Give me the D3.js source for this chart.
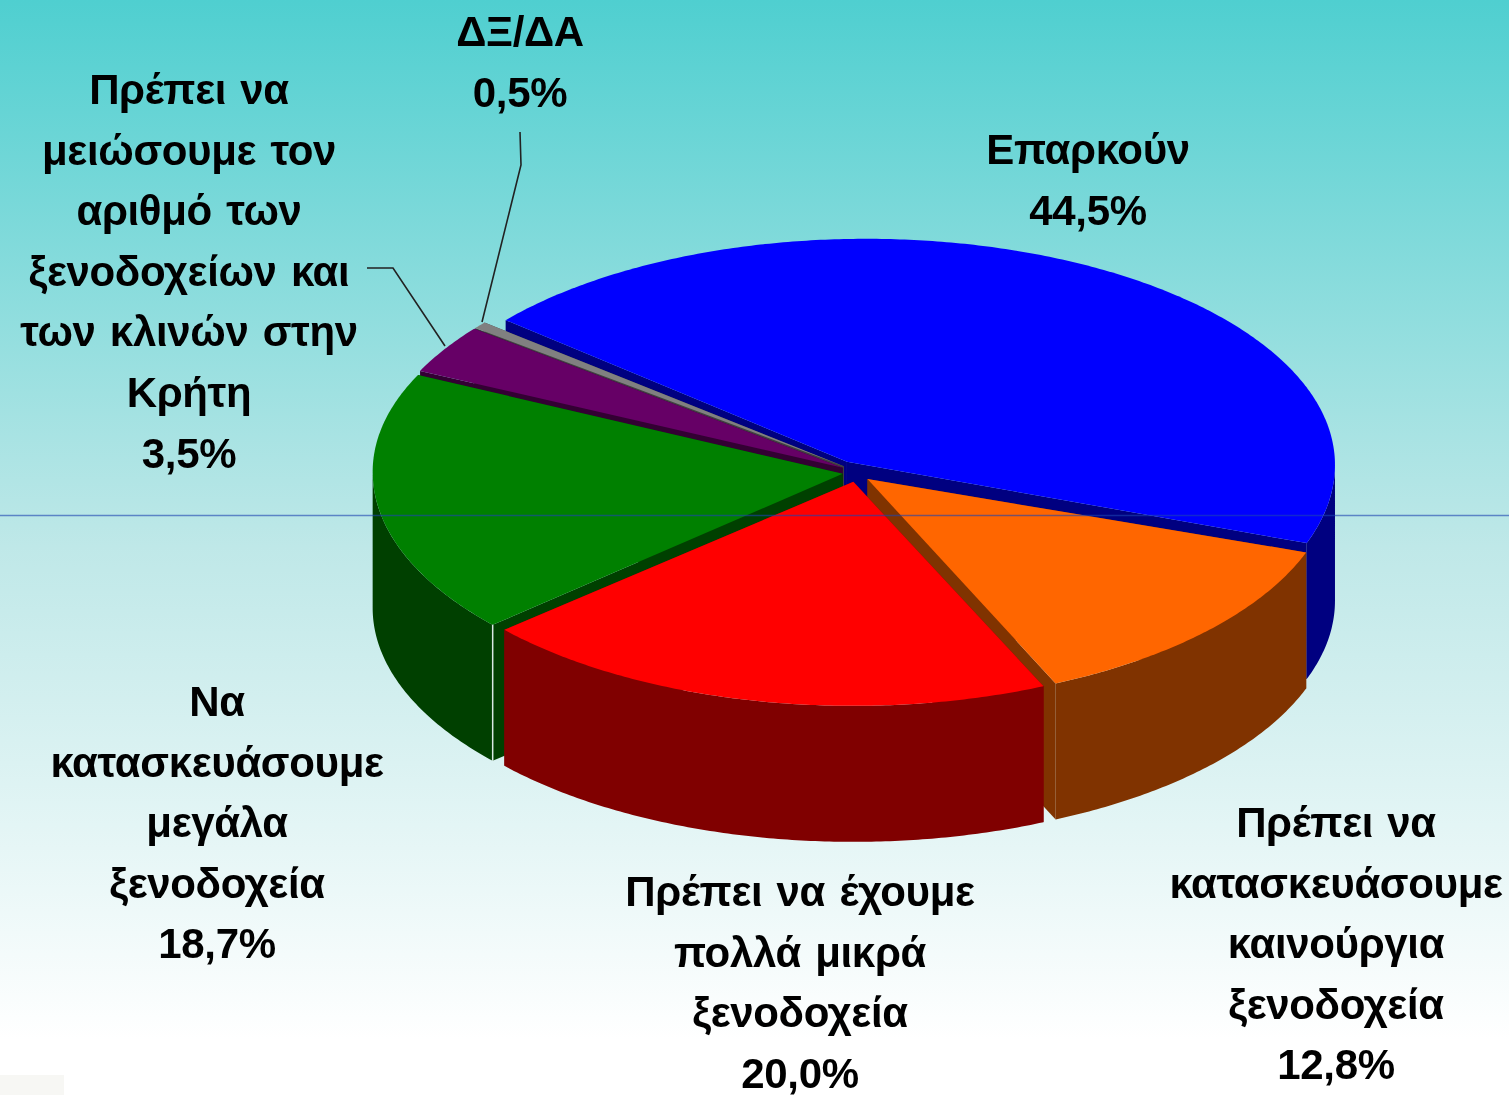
<!DOCTYPE html>
<html lang="el">
<head>
<meta charset="utf-8">
<title>Ξενοδοχεία στην Κρήτη</title>
<script src="https://cdn.jsdelivr.net/npm/d3@7/dist/d3.min.js"></script>
<style>
html,body{margin:0;padding:0;background:#fff;overflow:hidden}
svg{display:block}
text{font-family:"Liberation Sans",Arial,sans-serif;font-weight:700;fill:#050505}
</style>
</head>
<body>
<svg id="chart" width="1509" height="1095"></svg>
<script>
// ---- data ----
const categories = [
  ["Επαρκούν"],
  ["Πρέπει να", "κατασκευάσουμε", "καινούργια", "ξενοδοχεία"],
  ["Πρέπει να έχουμε", "πολλά μικρά", "ξενοδοχεία"],
  ["Να", "κατασκευάσουμε", "μεγάλα", "ξενοδοχεία"],
  ["Πρέπει να", "μειώσουμε τον", "αριθμό των", "ξενοδοχείων και", "των κλινών στην", "Κρήτη"],
  ["ΔΞ/ΔΑ"]
];
const values = [44.5, 12.8, 20.0, 18.7, 3.5, 0.5];
const topColors  = ["#0000ff", "#ff6600", "#ff0000", "#008000", "#660066", "#808080"];
const wallColors = ["#000080", "#803300", "#800000", "#004000", "#330033", "#404040"];

// ---- layout ----
const W = 1509, H = 1095;
const center = {x: 856.5, y: 471}, rx = 469, ryBack = 226, ryFront = 229, depth = 136;
const explode = {x: 15, y: 6};
const rimShift = [[2, -1], [-2, -1], [0, 0], [0, 0], [0, 0], [0, 0]];
const apexShift = [[-19, -3], [2, 5], [0, 5], [1, 2], [-1, 0], [-1, -1]];
const labelPos = [[1088, 164], [1336, 837], [800, 906], [217, 716], [189, 104], [520, 46]];
const lineStep = 60.6, fontSize = 42, tracking = -0.35, wordGap = 3;
const drawOrder = [0, 5, 4, 3, 1, 2];
const leaders = [
  [[520, 132], [521, 165], [482, 322]],
  [[367, 268], [393, 268], [445, 346]]
];

const svg = d3.select("#chart");
const defs = svg.append("defs");
const grad = defs.append("linearGradient").attr("id", "bg").attr("x1", 0).attr("x2", 0).attr("y1", 0).attr("y2", 1);
grad.append("stop").attr("offset", "0").attr("stop-color", "#4fcfd0");
grad.append("stop").attr("offset", "0.5").attr("stop-color", "#bfe8e8");
grad.append("stop").attr("offset", "0.95").attr("stop-color", "#ffffff");
defs.append("filter").attr("id", "soft").attr("x", "-5%").attr("y", "-5%").attr("width", "110%").attr("height", "110%")
  .append("feGaussianBlur").attr("stdDeviation", 0.45);
svg.append("rect").attr("width", W).attr("height", H).attr("fill", "url(#bg)");
svg.append("rect").attr("x", 0).attr("y", 1075).attr("width", 64).attr("height", 20).attr("fill", "#f7f7f4");

const pie = d3.pie().sort(null)
  .startAngle(-50.2 * Math.PI / 180)
  .endAngle((360 - 50.2) * Math.PI / 180);
const arcs = pie(values);

const sx = d3.scaleLinear().domain([-1, 1]).range([-rx, rx]);
const sy = d3.scaleLinear().domain([-1, 0, 1]).range([-ryBack, 0, ryFront]);
const rim = (c, a) => [c.x + sx(Math.sin(a)), c.y + sy(-Math.cos(a))];
const samples = (a0, a1) => {
  const n = Math.max(2, Math.ceil((a1 - a0) / 0.01));
  return d3.range(n + 1).map(i => a0 + (a1 - a0) * i / n);
};
const line = d3.line();
const wall = d3.area().x(d => d[0]).y0(d => d[1]).y1(d => d[1] + depth);
const sliceCenter = i => {
  const mid = (arcs[i].startAngle + arcs[i].endAngle) / 2;
  return {
    x: center.x + explode.x * Math.sin(mid) + rimShift[i][0],
    y: center.y - explode.y * Math.cos(mid) + rimShift[i][1]
  };
};

const g = svg.append("g");
drawOrder.forEach(i => {
  const d = arcs[i];
  const c = sliceCenter(i);
  const apex = [c.x + apexShift[i][0], c.y + apexShift[i][1]];
  const start = rim(c, d.startAngle), end = rim(c, d.endAngle);
  const s = g.append("g").attr("class", "slice");
  // cut faces
  [start, end].forEach(p => {
    s.append("path")
      .attr("d", line([apex, p, [p[0], p[1] + depth], [apex[0], apex[1] + depth]]) + "Z")
      .attr("fill", wallColors[i]);
  });
  // outer wall: only the front half of the rim can be seen
  const a0 = Math.max(d.startAngle, Math.PI / 2), a1 = Math.min(d.endAngle, 3 * Math.PI / 2);
  if (a1 > a0) {
    s.append("path")
      .attr("d", wall(samples(a0, a1).map(a => rim(c, a))))
      .attr("fill", wallColors[i]);
  }
  // top face
  s.append("path")
    .attr("d", line([apex, ...samples(d.startAngle, d.endAngle).map(a => rim(c, a))]) + "Z")
    .attr("fill", topColors[i]);
});

// white seam on the green slice's front corner
const greenCorner = rim(sliceCenter(3), arcs[3].startAngle);
g.append("line")
  .attr("x1", greenCorner[0]).attr("x2", greenCorner[0])
  .attr("y1", greenCorner[1]).attr("y2", greenCorner[1] + depth)
  .attr("stroke", "#d8e8e4").attr("stroke-width", 1.5);

// leader lines
svg.selectAll("path.leader").data(leaders).join("path")
  .attr("class", "leader")
  .attr("d", d => line(d))
  .attr("fill", "none").attr("stroke", "#222").attr("stroke-width", 1.6);

// labels
const fmt = v => d3.format(".1f")(v).replace(".", ",") + "%";
const labelLayer = svg.append("g").attr("filter", "url(#soft)");
categories.forEach((lines, i) => {
  const t = labelLayer.append("text").attr("text-anchor", "middle").attr("font-size", fontSize)
    .attr("letter-spacing", tracking).attr("word-spacing", wordGap);
  [...lines, fmt(values[i])].forEach((txt, k) => {
    t.append("tspan")
      .attr("x", labelPos[i][0])
      .attr("y", labelPos[i][1] + k * lineStep)
      .text(txt);
  });
});

// thin horizontal rule across the picture
svg.append("line").attr("x1", 0).attr("x2", W).attr("y1", 515.5).attr("y2", 515.5)
  .attr("stroke", "#1c43b1").attr("stroke-opacity", 0.6).attr("stroke-width", 1.3);
</script>
</body>
</html>
